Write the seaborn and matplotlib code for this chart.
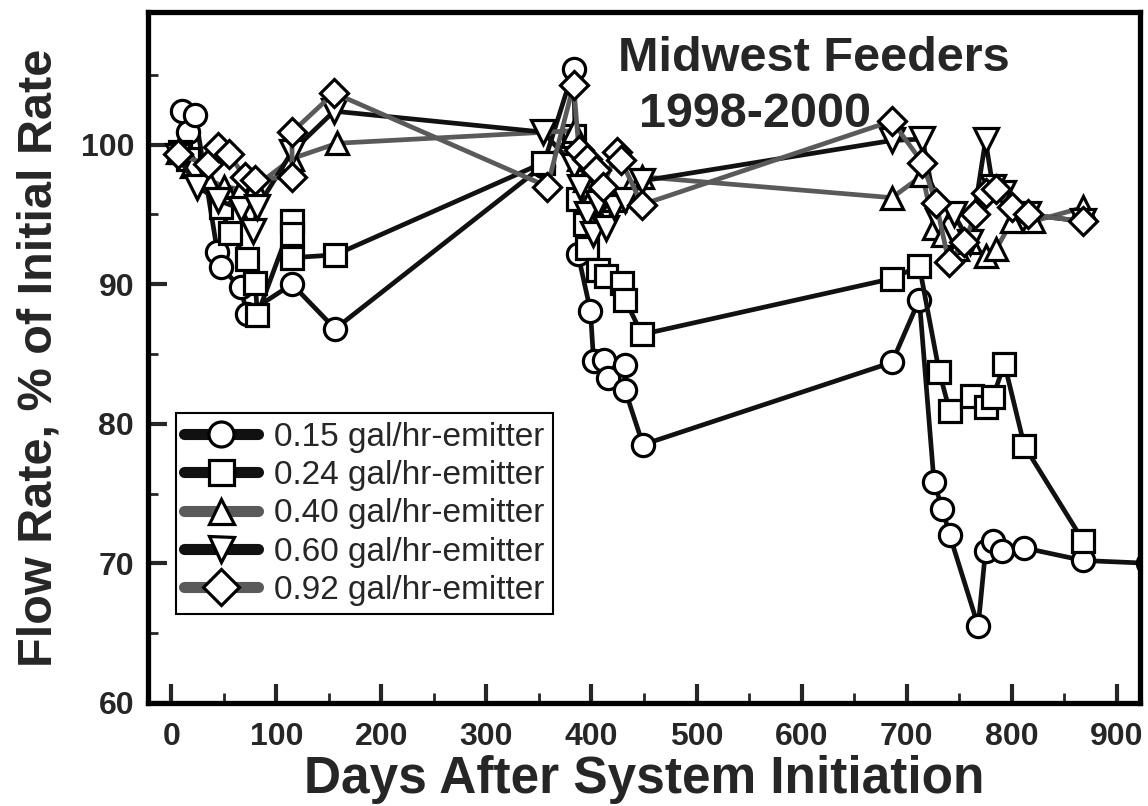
import numpy as np
import pandas as pd
import matplotlib
matplotlib.use("Agg")
import matplotlib.pyplot as plt
import seaborn as sns
from matplotlib.ticker import MultipleLocator

# --- data (days, % of initial rate) ---
days15 = [10, 16, 23, 44, 47, 66, 72, 115, 156, 354, 383, 387, 399, 402, 412, 416, 432, 432, 449, 686, 712, 726, 734, 741, 768, 775, 782, 791, 812, 868, 930]
vals15 = [102.4, 100.9, 102.1, 92.3, 91.2, 89.8, 87.9, 90.0, 86.8, 98.5, 105.4, 92.2, 88.1, 84.5, 84.6, 83.3, 84.2, 82.4, 78.5, 84.4, 88.9, 75.8, 73.9, 72.0, 65.5, 70.9, 71.6, 70.9, 71.1, 70.2, 70.0]

days24 = [8, 16, 47, 56, 72, 80, 82, 115, 115, 115, 156, 354, 383, 387, 394, 396, 406, 414, 429, 432, 448, 686, 712, 731, 741, 762, 775, 782, 793, 812, 868]
vals24 = [99.5, 99.0, 95.5, 93.7, 91.8, 90.1, 87.8, 94.5, 93.6, 91.9, 92.1, 98.7, 100.6, 96.1, 94.3, 92.6, 91.0, 90.6, 90.1, 88.9, 86.4, 90.4, 91.3, 83.7, 80.9, 82.0, 81.2, 81.9, 84.3, 78.4, 71.6]

days40 = [6, 20, 35, 50, 66, 80, 115, 158, 383, 388, 394, 401, 411, 421, 436, 448, 686, 715, 726, 735, 748, 760, 775, 785, 800, 820, 868]
vals40 = [99.5, 98.5, 97.5, 97.0, 96.8, 97.0, 99.0, 100.1, 101.0, 99.0, 97.5, 96.5, 97.0, 96.0, 96.8, 97.7, 96.2, 97.8, 94.0, 93.5, 92.5, 93.0, 92.0, 92.5, 94.5, 94.5, 95.5]

days60 = [6, 25, 45, 66, 78, 82, 115, 155, 354, 383, 389, 396, 401, 406, 414, 421, 432, 448, 686, 715, 730, 745, 760, 775, 782, 792, 815, 868]
vals60 = [99.2, 97.0, 96.0, 95.4, 93.8, 95.5, 99.5, 102.4, 100.9, 98.5, 97.0, 95.0, 93.6, 95.8, 94.0, 95.5, 96.0, 97.4, 100.3, 100.4, 94.5, 95.0, 93.0, 100.3, 97.0, 96.5, 95.0, 94.5]

days92 = [6, 35, 45, 55, 70, 80, 115, 115, 155, 358, 383, 388, 396, 404, 411, 424, 428, 448, 686, 715, 728, 740, 755, 765, 775, 785, 800, 815, 868]
vals92 = [99.3, 98.6, 99.8, 99.3, 97.7, 97.5, 97.7, 100.9, 103.7, 97.0, 104.3, 99.6, 99.0, 98.2, 97.0, 99.5, 98.9, 95.7, 101.7, 98.7, 95.8, 91.6, 93.0, 95.0, 96.5, 96.8, 95.5, 95.0, 94.5]

labels = ["0.15 gal/hr-emitter", "0.24 gal/hr-emitter", "0.40 gal/hr-emitter",
          "0.60 gal/hr-emitter", "0.92 gal/hr-emitter"]
series = [(days15, vals15), (days24, vals24), (days40, vals40), (days60, vals60), (days92, vals92)]
markers = ["o", "s", "^", "v", "D"]
line_colors = ["#111111", "#111111", "#5a5a5a", "#111111", "#5a5a5a"]
msizes = [16, 16, 16, 17, 14]

frames = []
for lab, (d, v) in zip(labels, series):
    frames.append(pd.DataFrame({"day": d, "rate": v, "emitter": lab}))
df = pd.concat(frames, ignore_index=True)

sns.set_style("ticks")
plt.rcParams["font.family"] = ["Liberation Sans", "DejaVu Sans"]

fig = plt.figure(figsize=(11.48, 8.06), dpi=100)
ax = fig.add_axes([0.129, 0.128, 0.864, 0.857])

for lab, mk, col, ms in zip(labels, markers, line_colors, msizes):
    sub = df[df["emitter"] == lab]
    sns.lineplot(data=sub, x="day", y="rate", ax=ax, sort=False, estimator=None,
                 color=col, linewidth=3.4, marker=mk, markersize=ms,
                 markerfacecolor="white", markeredgecolor="black",
                 markeredgewidth=2.3, label=lab)

ax.set_xlim(-22, 922)
ax.set_ylim(60, 109.5)
ax.xaxis.set_major_locator(MultipleLocator(100))
ax.xaxis.set_minor_locator(MultipleLocator(50))
ax.yaxis.set_major_locator(MultipleLocator(10))
ax.yaxis.set_minor_locator(MultipleLocator(5))
ax.tick_params(axis="both", which="major", direction="in", length=14, width=3,
               labelsize=23, pad=10)
ax.tick_params(axis="x", which="major", pad=14)
ax.tick_params(axis="both", which="minor", direction="in", length=7, width=2)
for t in ax.get_xticklabels() + ax.get_yticklabels():
    t.set_fontweight("bold")
for s in ax.spines.values():
    s.set_linewidth(3.8)
    s.set_color("black")

ax.set_xlabel("Days After System Initiation", fontsize=37, fontweight="bold", labelpad=2)
ax.set_ylabel("Flow Rate, % of Initial Rate", fontsize=35, fontweight="bold", labelpad=14)

ax.text(0.474, 0.965, "Midwest Feeders", transform=ax.transAxes,
        fontsize=35, fontweight="bold", ha="left", va="top")
ax.text(0.495, 0.885, "1998-2000", transform=ax.transAxes,
        fontsize=35, fontweight="bold", ha="left", va="top")

leg = ax.legend(loc="lower left", bbox_to_anchor=(0.028, 0.128), fontsize=24,
                frameon=True, fancybox=False, edgecolor="black", framealpha=1,
                handlelength=2.2, borderpad=0.25, labelspacing=0.22,
                handletextpad=0.5, borderaxespad=0)
leg.get_frame().set_linewidth(1.5)
for h in leg.get_lines():
    h.set_linewidth(8)
    h.set_markersize(18)

fig.savefig("out.png", dpi=100)
